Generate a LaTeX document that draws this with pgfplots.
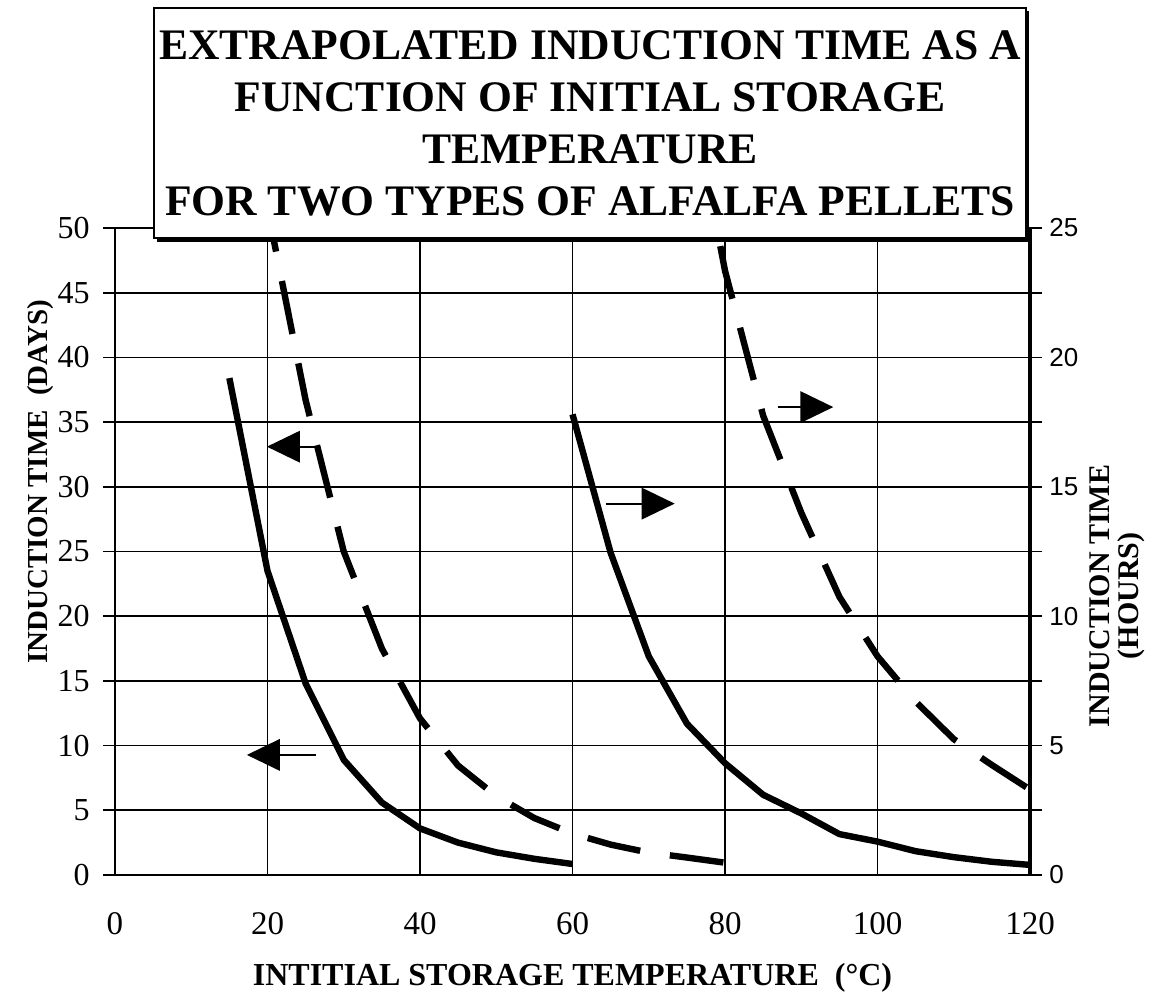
\documentclass[border=0pt]{standalone}
\usepackage{fontspec}
\setmainfont{Liberation Serif}
\newfontfamily\arialfont{Liberation Sans}
\usepackage{pgfplots}
\pgfplotsset{compat=1.18}
\pgfplotstableread{
T d
15 38.4
20 23.5
25 14.8
30 8.9
35 5.6
40 3.6
45 2.5
50 1.75
55 1.25
60 0.85
}\solidA
\pgfplotstableread{
T d
20 51.5
25 36.7
30 25.0
35 17.5
40 12.1
45 8.45
50 6.1
55 4.4
60 3.2
65 2.35
70 1.73
75 1.35
80 0.95
}\dashA
\pgfplotstableread{
T h
60 17.8
65 12.45
70 8.45
75 5.85
80 4.32
85 3.1
90 2.38
95 1.58
100 1.29
105 0.92
110 0.69
115 0.51
120 0.39
}\solidB
\pgfplotstableread{
T h
75 31.0
80 23.35
85 17.75
90 14.0
95 10.75
100 8.45
105 6.7
110 5.25
115 4.25
120 3.3
}\dashB
\begin{document}
\begin{tikzpicture}
\path[use as bounding box] (-57.5pt,-59.5pt) rectangle (528pt,437.5pt);
\begin{axis}[
  scale only axis, width=457.5pt, height=323.5pt,
  xmin=0, xmax=120, ymin=0, ymax=50,
  xtick={0,20,...,120}, ytick={0,5,...,50},
  grid=major, major grid style={black, line width=0.85pt},
  axis line style={line width=1.1pt},
  tick align=outside,
  x tick style={draw=none}, major tick length=6pt,
  y tick style={black, line width=0.85pt},
  /pgf/number format/assume math mode=true,
  xticklabel style={font=\fontsize{16.5}{16.5}\selectfont, anchor=base, yshift=-23.5pt},
  yticklabel style={font=\fontsize{16}{16}\selectfont, anchor=east, inner sep=0pt, xshift=-6.5pt},
]
\addplot[black, line width=3.2pt, line join=round] table[x=T,y=d] {\solidA};
\addplot[black, line width=3.2pt, dash pattern=on 27pt off 15pt, dash phase=5.1pt] table[x=T,y=d] {\dashA};
% arrows (left axis)
\draw[line width=1pt] (axis cs:21.6,9.28) -- (axis cs:26.3,9.28);
\fill (axis cs:17.3,9.28) -- ++(16.5pt,8pt) -- ++(0pt,-16pt) -- cycle;
\draw[line width=1pt] (axis cs:24.1,33.1) -- (axis cs:26.7,33.1);
\fill (axis cs:19.93,33.1) -- ++(16.5pt,8pt) -- ++(0pt,-16pt) -- cycle;
\draw[line width=1pt] (axis cs:64.4,28.7) -- (axis cs:69.2,28.7);
\fill (axis cs:73.4,28.7) -- ++(-16.5pt,8pt) -- ++(0pt,-16pt) -- cycle;
\draw[line width=1pt] (axis cs:86.9,36.16) -- (axis cs:90.0,36.16);
\fill (axis cs:94.2,36.16) -- ++(-16.5pt,8pt) -- ++(0pt,-16pt) -- cycle;
\end{axis}
\begin{axis}[
  scale only axis, width=457.5pt, height=323.5pt,
  xmin=0, xmax=120, ymin=0, ymax=25,
  axis x line=none, axis y line*=right,
  ytick={0,5,...,25},
  axis line style={line width=1.6pt},
  tick align=outside, major tick length=5pt,
  y tick style={black, line width=0.85pt},
  /pgf/number format/assume math mode=true,
  yticklabel style={font=\arialfont\fontsize{13}{13}\selectfont, anchor=west, inner sep=0pt, xshift=4.5pt},
]
\addplot[black, line width=3.2pt, line join=round] table[x=T,y=h] {\solidB};
\addplot[black, line width=3.2pt, dash pattern=on 27pt off 15pt, dash phase=37.7pt] table[x=T,y=h] {\dashB};
\end{axis}
% title box
\fill[black] (21pt,316.5pt) rectangle (457pt,432pt);
\draw[fill=white, line width=0.8pt] (19.5pt,318.5pt) rectangle (455.5pt,433.5pt);
\node[align=center, font=\bfseries\fontsize{21.8}{26}\selectfont] at (237.5pt,376pt)
  {EXTRAPOLATED INDUCTION TIME AS A\\FUNCTION OF INITIAL STORAGE\\TEMPERATURE\\FOR TWO TYPES OF ALFALFA PELLETS};
% axis labels
\node[anchor=base, font=\bfseries\fontsize{16}{16}\selectfont] at (228.75pt,-55pt) {INTITIAL STORAGE TEMPERATURE\ \ (°C)};
\node[rotate=90, font=\bfseries\fontsize{14.5}{14.5}\selectfont] at (-37pt,196.5pt) {INDUCTION TIME\ \ (DAYS)};
\node[rotate=90, align=center, font=\bfseries\fontsize{15}{14.5}\selectfont] at (501pt,139.5pt) {INDUCTION TIME\\(HOURS)};
\end{tikzpicture}
\end{document}
